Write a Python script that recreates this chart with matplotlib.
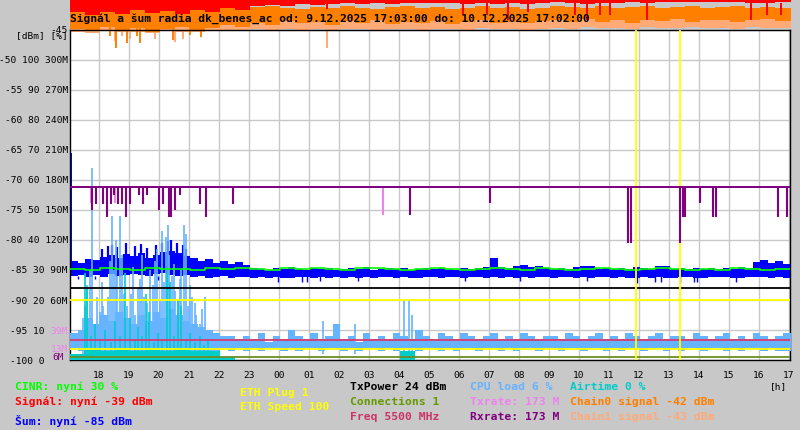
import numpy as np
import matplotlib
matplotlib.use("Agg")
import matplotlib.pyplot as plt

plt.rcParams['font.family'] = ['DejaVu Sans Mono']

# --- casova osa (hodiny od pulnoci 9.12.) ---
t_start = 17 + 3 / 60
t_end = 41 + 2 / 60
hours = np.arange(18, 42)

# --- sum (dBm), 15 min vzorky ---
noise_hi = [
    -83.5, -83.8, -83.2, -83.4, -82.8, -82.5, -83.0, -82.3,
    -82.7, -82.2, -83.0, -82.5, -82.0, -81.8, -82.2, -82.6,
    -83.0, -83.5, -83.2, -83.8, -83.5, -84.0, -83.6, -84.2,
    -84.6, -84.9, -85.0, -84.7, -84.9, -84.5, -84.8, -85.0,
    -84.7, -84.9, -84.6, -85.0, -84.8, -84.7, -84.9, -84.5,
    -85.0, -84.8, -84.6, -84.9, -84.7, -85.0, -84.8, -84.6,
    -84.9, -84.7, -84.8, -85.0, -84.6, -84.9, -84.7, -84.5,
    -83.0, -84.5, -84.7, -84.3, -84.2, -84.5, -84.3, -84.6,
    -84.8, -84.6, -84.9, -84.5, -84.3, -84.4, -84.8, -84.7,
    -84.9, -84.6, -84.8, -84.5, -84.7, -84.9, -84.4, -84.3,
    -84.8, -84.6, -84.9, -84.7, -84.8, -84.6, -84.9, -84.7,
    -84.8, -84.5, -84.6, -83.6, -83.3, -83.8, -83.5, -84.0,
]
noise_lo = [
    -86.0, -85.8, -86.2, -85.9, -86.1, -85.7, -86.0, -85.8,
    -85.6, -85.9, -86.0, -85.7, -85.5, -85.8, -86.0, -85.9,
    -86.2, -86.0, -86.3, -86.1, -86.0, -86.4, -86.2, -86.1,
    -86.3, -86.1, -86.4, -86.2, -86.4, -86.3, -86.2, -86.1,
    -86.3, -86.2, -86.4, -86.1, -86.3, -86.2, -86.4, -86.1,
    -86.3, -86.2, -86.1, -86.4, -86.2, -86.3, -86.4, -86.1,
    -86.2, -86.3, -86.1, -86.2, -86.4, -86.2, -86.1, -86.3,
    -86.2, -86.4, -86.1, -86.3, -86.2, -86.4, -86.2, -86.1,
    -86.3, -86.2, -86.1, -86.4, -86.2, -86.3, -86.2, -86.1,
    -86.3, -86.2, -86.4, -86.3, -86.2, -86.4, -86.2, -86.3,
    -86.4, -86.2, -86.1, -86.4, -86.3, -86.2, -86.1, -86.2,
    -86.4, -86.3, -86.2, -86.1, -86.2, -86.3, -86.2, -86.4,
]
noise_first = -65.5
noise_peak_t = [18.10, 18.30, 18.45, 18.60, 18.90, 19.20, 19.40, 19.60,
                19.90, 20.10, 20.30, 20.40, 20.60, 20.80, 20.90]
noise_peak_v = [-81.5, -81.0, -80.8, -81.2, -80.5, -81.0, -80.6, -81.3,
                -80.8, -80.5, -80.2, -80.0, -80.5, -80.8, -81.5]
noise_dip_t = [17.32, 17.88, 19.98, 23.98, 24.78, 24.95, 25.38, 26.65, 30.22,
               32.05, 34.28, 35.95, 36.55, 36.72, 37.38, 37.82, 37.92, 39.22]
noise_dip_v = [-86.5, -86.5, -86.7, -87.0, -87.0, -87.0, -86.8, -86.8, -86.8,
               -86.8, -86.8, -87.2, -87.0, -87.0, -87.2, -87.0, -87.0, -87.0]

# --- CINR (%), 30 min vzorky ---
cinr = [30.3, 30.0, 30.7, 30.3, 30.0, 30.7, 30.3, 30.3, 30.0, 30.7, 30.3, 30.7,
        30.3, 30.0, 30.7, 30.3, 30.7, 30.3, 30.0, 30.7, 30.7, 30.3, 30.0, 30.3,
        30.7, 30.3, 30.0, 30.3, 30.7, 30.3, 30.0, 30.7, 30.3, 30.0, 30.3, 30.7,
        30.3, 30.0, 30.3, 30.7, 30.3, 30.0, 30.3, 30.0, 30.7, 30.3, 30.0, 30.3]

# --- CPU load (%), 15 min vzorky + spicky ---
cpu_hi = [
    9, 10, 14, 12, 15, 13, 16, 14,
    12, 15, 13, 16, 14, 17, 15, 13,
    12, 11, 10, 9, 8, 8, 7, 8,
    7, 9, 6, 8, 7, 10, 8, 7,
    9, 7, 8, 12, 7, 8, 6, 9,
    7, 8, 7, 9, 8, 7, 10, 8,
    7, 9, 8, 7, 9, 8, 7, 8,
    9, 7, 8, 7, 9, 8, 7, 8,
    8, 7, 9, 8, 7, 8, 9, 7,
    8, 7, 9, 8, 7, 8, 9, 7,
    8, 8, 7, 9, 8, 7, 8, 9,
    7, 8, 7, 9, 8, 7, 8, 9,
]
cpu_lo = [
    4, 3, 2, 2, 1, 2, 1, 2,
    1, 2, 1, 1, 2, 1, 2, 1,
    2, 2, 3, 3, 4, 3, 4, 3,
    4, 3, 4, 4, 3, 4, 3, 4,
    4, 3, 4, 4, 3, 4, 3, 4,
    4, 3, 4, 3, 4, 4, 3, 4,
    4, 3, 4, 3, 4, 4, 3, 4,
    4, 3, 4, 3, 4, 4, 3, 4,
    4, 3, 4, 4, 3, 4, 4, 3,
    4, 3, 4, 4, 3, 4, 4, 3,
    4, 3, 4, 4, 3, 4, 4, 3,
    4, 3, 4, 4, 3, 4, 3, 3,
]
cpu_spike_t = [17.48, 17.55, 17.62, 17.70, 17.78, 17.88, 17.95, 18.05, 18.10, 18.15,
               18.32, 18.38, 18.45, 18.52, 18.58, 18.62, 18.72, 18.78, 18.85, 18.95,
               19.08, 19.15, 19.22, 19.30, 19.38, 19.45, 19.52, 19.60, 19.72, 19.82,
               19.88, 19.95, 20.05, 20.12, 20.18, 20.25, 20.30, 20.35, 20.45, 20.50,
               20.55, 20.65, 20.70, 20.75, 20.85, 20.90, 20.98, 21.05, 21.12, 21.20,
               21.25, 21.38, 21.45, 21.55, 21.65, 25.48, 26.55, 28.18, 28.35, 28.45]
cpu_spike_v = [14, 18, 25, 30, 64, 12, 21, 16, 26, 18,
               21, 33, 48, 30, 40, 28, 48, 35, 22, 18,
               22, 31, 15, 24, 27, 35, 21, 19, 30, 25,
               33, 37, 20, 43, 26, 41, 45, 35, 28, 32,
               23, 20, 27, 30, 45, 42, 18, 25, 21, 19,
               15, 12, 17, 21, 10, 13, 12, 20, 20, 15]

# --- Airtime (%), 30 min vzorky + spicky ---
airtime = [2, 4, 3, 4, 3, 4, 3, 4, 3, 3, 1, 0, 0, 0, 0, 0, 0, 0, 0, 0, 0, 0, 3, 0,
           0, 0, 0, 0, 0, 0, 0, 0, 0, 0, 0, 0, 0, 0, 0, 0, 0, 0, 0, 0, 0, 0, 0, 0]
air_spike_t = [17.55, 17.62, 17.75, 17.88, 18.05, 18.22, 18.40, 18.55, 18.70, 18.88,
               19.05, 19.20, 19.32, 19.45, 19.58, 19.68, 19.85, 19.98, 20.12, 20.28,
               20.38, 20.50, 20.65, 20.75, 20.92, 21.05, 21.22, 21.38, 21.52, 21.65]
air_spike_v = [29, 24, 8, 12, 7, 10, 6, 13, 8, 29,
               14, 7, 11, 8, 22, 16, 6, 9, 7, 29,
               26, 8, 20, 18, 7, 9, 6, 8, 5, 7]

# --- Tx/Rx rate (M) ---
rate_now = 173
rx_dip_t = [17.77, 17.90, 18.15, 18.28, 18.42, 18.52, 18.65, 18.77, 18.92, 19.05,
            19.35, 19.47, 19.63, 20.02, 20.15, 20.35, 20.43, 20.55, 20.72, 21.38,
            21.58, 22.48, 28.38, 31.05, 35.65, 35.75, 37.38, 37.48, 37.55, 38.02,
            38.48, 38.58, 40.65, 40.95]
rx_dip_v = [150, 156, 156, 143, 156, 165, 156, 156, 143, 156,
            165, 156, 165, 150, 156, 143, 143, 150, 165, 156,
            143, 156, 145, 157, 117, 117, 117, 143, 143, 157,
            143, 143, 143, 143]
tx_dip_t = [17.75, 18.55, 27.48, 38.05]
tx_dip_v = [157, 157, 145, 160]
rate_min_labels = ['39M', '13M', '6M']

# --- signal a chainy (dBm), 30 min vzorky ---
sig_lo = [
    -42.0, -42.5, -42.0, -42.3, -41.7, -42.2, -41.8, -42.3,
    -41.7, -42.0, -41.3, -41.7, -41.0, -40.8, -41.0, -40.7,
    -40.8, -40.7, -40.5, -40.7, -40.5, -40.7, -40.5, -40.5,
    -40.5, -40.5, -40.7, -40.5, -40.7, -40.5, -40.7, -40.5,
    -40.3, -40.5, -40.7, -40.5, -40.5, -40.3, -40.5, -40.3,
    -40.3, -40.3, -40.3, -40.3, -40.3, -40.5, -40.5, -40.3,
]
sig_dip_t = [25.62, 30.15, 30.95, 31.65, 32.32, 33.88, 34.28, 34.72, 35.05,
             36.28, 39.72, 40.28, 40.72]
sig_dip_v = [-41.5, -42.5, -42.5, -43.3, -42.0, -42.5, -43.3, -42.5, -42.5,
             -43.3, -43.3, -42.5, -42.5]
ch0_hi = [
    -41.0, -41.2, -41.0, -41.3, -40.9, -41.2, -41.0, -41.3,
    -41.0, -41.2, -41.0, -41.3, -41.2, -41.0, -41.3, -41.5,
    -41.2, -41.4, -41.0, -41.3, -41.5, -41.2, -41.0, -41.4,
    -41.2, -41.5, -41.3, -41.0, -41.4, -41.2, -41.5, -41.3,
    -41.0, -41.2, -41.4, -41.0, -41.3, -41.2, -41.0, -41.4,
    -41.2, -41.0, -41.3, -41.2, -41.0, -41.4, -41.2, -41.3,
]
ch0_lo = [
    -44.8, -45.2, -44.5, -45.0, -44.6, -45.3, -44.8, -44.5,
    -45.0, -44.7, -44.2, -44.5, -43.8, -44.2, -43.5, -43.9,
    -43.6, -44.1, -43.5, -43.8, -43.4, -44.0, -43.6, -43.8,
    -43.5, -44.0, -43.7, -43.4, -43.9, -43.6, -43.8, -43.5,
    -43.3, -43.7, -43.2, -43.6, -43.4, -43.8, -43.3, -43.5,
    -43.2, -43.6, -43.4, -43.3, -43.7, -43.4, -43.2, -43.5,
]
ch1_hi = [
    -41.7, -42.0, -41.8, -42.2, -41.9, -42.0, -41.7, -42.1,
    -41.9, -42.0, -42.2, -41.9, -42.0, -42.3, -42.1, -42.0,
    -42.2, -42.0, -42.3, -42.1, -42.0, -42.2, -42.4, -42.1,
    -42.0, -42.3, -42.1, -42.2, -42.0, -42.3, -42.2, -42.1,
    -42.3, -42.2, -42.4, -42.1, -42.3, -42.2, -42.4, -42.3,
    -42.2, -42.4, -42.1, -42.3, -42.2, -42.4, -42.3, -42.2,
]
ch1_lo = [
    -45.3, -45.5, -45.2, -45.4, -45.3, -45.5, -45.2, -45.4,
    -45.3, -45.2, -45.0, -45.1, -44.9, -45.0, -44.8, -45.0,
    -44.9, -45.0, -44.8, -44.9, -45.0, -44.8, -44.9, -45.0,
    -44.8, -44.9, -45.0, -44.7, -44.9, -44.8, -45.0, -44.9,
    -44.6, -44.8, -44.5, -44.7, -44.6, -44.8, -44.5, -44.7,
    -44.6, -44.5, -44.7, -44.6, -44.8, -44.5, -44.6, -44.7,
]
ch0_dip_t = [18.38, 18.58, 18.95, 19.28, 19.38, 20.48, 21.05, 21.42]
ch0_dip_v = [-46.0, -48.0, -47.2, -46.0, -47.2, -46.7, -45.8, -46.2]
ch1_dip_t = [18.55, 18.78, 19.05, 19.88, 20.55, 20.82, 25.62]
ch1_dip_v = [-46.8, -46.0, -46.5, -46.5, -47.0, -46.5, -48.0]

# --- konstantni cary (kreslene v % stupnici) ---
txpower_lvl = 24
eth_speed_lvl = 20
freq_lvl = 6.7
eth_plug_lvl = 3.7
connections_lvl = 1
eth_event_t = [35.92, 37.38]

# --- osa Y ---
dbm_ticks = [-100, -95, -90, -85, -80, -75, -70, -65, -60, -55, -50, -45]
pct_ticks = [0, 10, 20, 30, 40, 50, 60, 70, 80, 90, 100, None]
mbit_ticks = [None, None, 60, 90, 120, 150, 180, 210, 240, 270, 300, None]

BG = '#c8c8c8'
fig = plt.figure(figsize=(8, 4.3), dpi=100, facecolor=BG)
ax = fig.add_axes([70 / 800, 70 / 430, 720 / 800, 330 / 430])
ax.set_facecolor('white')
ax.set_xlim(t_start, t_end)
ax.set_ylim(-100, -45)
axp = ax.twinx()
axp.set_ylim(0, 110)
axm = ax.twinx()
axm.set_ylim(0, 330)
for a in (axp, axm):
    a.yaxis.set_visible(False)
    for s in a.spines.values():
        s.set_visible(False)


def steps(t, v, dt):
    x = np.append(t, t[-1] + dt)
    y = np.append(v, v[-1])
    return x, y


t96 = t_start + 0.25 * np.arange(len(noise_hi))
t48 = t_start + 0.5 * np.arange(len(sig_lo))

# horni pasmo (signal + chainy), kresli se i mimo graf
x48, c1h = steps(t48, ch1_hi, 0.5)
_, c1l = steps(t48, ch1_lo, 0.5)
_, c0h = steps(t48, ch0_hi, 0.5)
_, c0l = steps(t48, ch0_lo, 0.5)
_, sl = steps(t48, sig_lo, 0.5)
ax.fill_between(x48, c1l, c1h, step='post', color='#ffaa77', lw=0, clip_on=False, zorder=2)
ax.vlines(ch1_dip_t, -44.5, ch1_dip_v, color='#ffaa77', lw=1.4, clip_on=False, zorder=2)
ax.fill_between(x48, c0l, c0h, step='post', color='#ff8000', lw=0, clip_on=False, zorder=2.1)
ax.vlines(ch0_dip_t, -44.0, ch0_dip_v, color='#ff8000', lw=1.4, clip_on=False, zorder=2.1)
ax.fill_between(x48, sl, -38, step='post', color='#ff0000', lw=0, clip_on=False, zorder=2.2)
ax.vlines(sig_dip_t, -40.5, sig_dip_v, color='#ff0000', lw=1.4, clip_on=False, zorder=2.2)

# sum
x96, nh = steps(t96, noise_hi, 0.25)
_, nl = steps(t96, noise_lo, 0.25)
ax.fill_between(x96, nl, nh, step='post', color='#0000ff', lw=0, zorder=2.3)
ax.vlines(noise_peak_t, -83.0, noise_peak_v, color='#0000ff', lw=1.6, zorder=2.3)
ax.vlines(noise_dip_t, -86.0, noise_dip_v, color='#0000ff', lw=1.0, zorder=2.3)
ax.vlines([t_start + 0.02], -86.0, noise_first, color='#0000ff', lw=1.4, zorder=2.3)

# CPU, airtime, CINR a konstanty (% stupnice)
_, ch = steps(t96, cpu_hi, 0.25)
_, cl = steps(t96, cpu_lo, 0.25)
axp.fill_between(x96, cl, ch, step='post', color='#66b3ff', lw=0, zorder=2)
axp.vlines(cpu_spike_t, 2, cpu_spike_v, color='#66b3ff', lw=1.2, zorder=2)
_, at = steps(t48, airtime, 0.5)
axp.fill_between(x48, 0, at, step='post', color='#00cccc', lw=0, zorder=2.1)
axp.vlines(air_spike_t, 0, air_spike_v, color='#00cccc', lw=1.2, zorder=2.1)
xc, yc = steps(t48, cinr, 0.5)
axp.step(xc, yc, where='post', color='#00ff00', lw=1.2, zorder=3)
axp.axhline(txpower_lvl, color='black', lw=1.3, zorder=3)
axp.axhline(eth_speed_lvl, color='#ffff00', lw=1.3, zorder=3)
axp.axhline(freq_lvl, color='#d63c6e', lw=1.3, zorder=3)
axp.axhline(eth_plug_lvl, color='#ffff00', lw=1.3, zorder=3)
axp.axhline(connections_lvl, color='#6b8e23', lw=1.3, zorder=3)
axp.vlines(eth_event_t, 0, 110, color='#ffff00', lw=1.3, zorder=3)

# rychlosti (M stupnice)
axm.axhline(rate_now, color='#ee82ee', lw=1.4, zorder=2)
axm.vlines(tx_dip_t, rate_now, tx_dip_v, color='#ee82ee', lw=1.5, zorder=2)
axm.axhline(rate_now, color='#800080', lw=1.4, zorder=3)
axm.vlines(rx_dip_t, rate_now, rx_dip_v, color='#800080', lw=1.5, zorder=3)
ytr = axm.get_yaxis_transform()
axm.text(-0.003, 29, rate_min_labels[0], transform=ytr, ha='right', va='center',
         fontsize=6.8, color='#ee82ee', clip_on=False)
axm.text(-0.003, 11, rate_min_labels[1], transform=ytr, ha='right', va='center',
         fontsize=6.8, color='#ee82ee', clip_on=False)
axm.text(-0.009, 3, rate_min_labels[2], transform=ytr, ha='right', va='center',
         fontsize=6.8, color='#800080', clip_on=False)

# mrizka, osy
ax.set_xticks(hours)
ax.set_xticklabels([f"{h % 24:02d}" for h in hours])
labels = []
for d, p, m in zip(dbm_ticks, pct_ticks, mbit_ticks):
    s = f"{d}"
    if p is not None:
        s += f" {p}"
        s += f" {m}M" if m is not None else "    "
    labels.append(s)
ax.set_yticks(dbm_ticks)
ax.set_yticklabels(labels)
ax.tick_params(axis='both', length=0, labelsize=6.8, colors='black')
ax.tick_params(axis='y', pad=1.5)
ax.tick_params(axis='x', pad=8)
ax.grid(True, color='#c8c8c8', lw=1.0)
ax.set_axisbelow(True)
for s in ax.spines.values():
    s.set_color('black')
    s.set_linewidth(1.0)

fig.text(68 / 800, 1 - 36 / 430, '[dBm] [%]', ha='right', va='center', fontsize=6.8)
fig.text(787 / 800, 1 - 389 / 430, '[h]', ha='right', va='baseline', fontsize=6.8)

fig.text(70 / 800, 1 - 22 / 430,
         'Signál a šum radia dk_benes_ac od: 9.12.2025 17:03:00 do: 10.12.2025 17:02:00',
         ha='left', va='baseline', fontsize=8.1, fontweight='bold', color='black', zorder=5)

legend = [
    ('CINR: nyní 30 %', '#00ff00', 15, 390),
    ('Signál: nyní -39 dBm', '#ff0000', 15, 405),
    ('Šum: nyní -85 dBm', '#0000ff', 15, 425),
    ('ETH Plug 1', '#ffff00', 240, 396),
    ('ETH Speed 100', '#ffff00', 240, 410),
    ('TxPower 24 dBm', '#000000', 350, 390),
    ('Connections 1', '#669900', 350, 405),
    ('Freq 5500 MHz', '#cc3366', 350, 420),
    ('CPU load 6 %', '#66b3ff', 470, 390),
    ('Txrate: 173 M', '#ee82ee', 470, 405),
    ('Rxrate: 173 M', '#800080', 470, 420),
    ('Airtime 0 %', '#00cccc', 570, 390),
    ('Chain0 signal -42 dBm', '#ff8000', 570, 405),
    ('Chain1 signal -43 dBm', '#ffaa77', 570, 420),
]
for txt, col, x, y in legend:
    fig.text(x / 800, 1 - y / 430, txt, ha='left', va='baseline', fontsize=8.2,
             fontweight='bold', color=col)

fig.savefig('out.png', dpi=100, facecolor=BG)
